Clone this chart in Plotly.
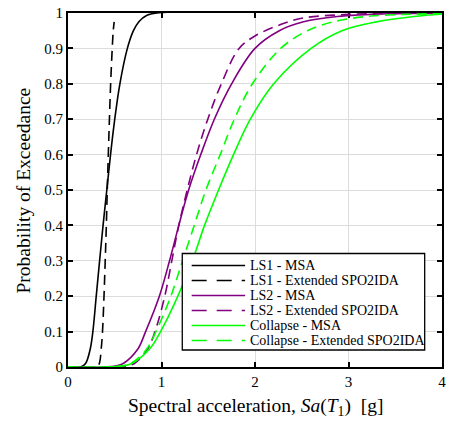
import plotly.graph_objects as go

# LS1 - MSA (black solid)
ls1_msa_x = [0.0, 0.14, 0.188, 0.237, 0.266, 0.302, 0.338, 0.375, 0.415, 0.455, 0.5, 0.555, 0.635, 0.7, 0.76, 0.84, 0.95, 4.0]
ls1_msa_y = [0.0, 0.001, 0.01, 0.05, 0.1, 0.2, 0.3, 0.4, 0.5, 0.6, 0.7, 0.8, 0.9, 0.95, 0.976, 0.993, 1.0, 1.0]

# LS1 - Extended SPO2IDA (black dashed)
ls1_ext_x = [0.0, 0.30, 0.322, 0.34, 0.355, 0.369, 0.385, 0.398, 0.41, 0.42, 0.431, 0.443, 0.456, 0.473, 0.484, 0.494]
ls1_ext_y = [0.0, 0.0, 0.003, 0.015, 0.05, 0.1, 0.2, 0.3, 0.4, 0.5, 0.6, 0.7, 0.8, 0.9, 0.95, 0.975]

# LS2 - MSA (purple solid)
ls2_msa_x = [0.0, 0.46, 0.59, 0.745, 0.83, 0.977, 1.086, 1.185, 1.29, 1.42, 1.565, 1.75, 2.0, 2.26, 2.52, 2.88, 3.45, 4.0]
ls2_msa_y = [0.0, 0.001, 0.01, 0.05, 0.1, 0.2, 0.3, 0.4, 0.5, 0.6, 0.7, 0.8, 0.9, 0.95, 0.975, 0.99, 0.998, 0.9995]

# LS2 - Extended SPO2IDA (purple dashed)
ls2_ext_x = [0.0, 0.58, 0.71, 0.85, 0.93, 1.035, 1.11, 1.185, 1.275, 1.375, 1.495, 1.64, 1.83, 2.0, 2.28, 2.52, 3.0, 3.5, 4.0]
ls2_ext_y = [0.0, 0.001, 0.01, 0.05, 0.1, 0.2, 0.3, 0.4, 0.5, 0.6, 0.7, 0.8, 0.9, 0.935, 0.968, 0.986, 0.996, 0.999, 1.0]

# Collapse - MSA (green solid)
col_msa_x = [0.0, 0.51, 0.68, 0.87, 0.99, 1.175, 1.33, 1.46, 1.61, 1.77, 1.95, 2.2, 2.6, 2.93, 3.3, 3.7, 4.0]
col_msa_y = [0.0, 0.001, 0.01, 0.05, 0.1, 0.2, 0.3, 0.4, 0.5, 0.6, 0.7, 0.8, 0.9, 0.95, 0.975, 0.99, 0.997]

# Collapse - Extended SPO2IDA (green dashed)
col_ext_x = [0.0, 0.52, 0.67, 0.84, 0.94, 1.1, 1.225, 1.35, 1.475, 1.628, 1.779, 1.972, 2.275, 2.56, 2.835, 3.19, 3.6, 4.0]
col_ext_y = [0.0, 0.001, 0.01, 0.05, 0.1, 0.2, 0.3, 0.4, 0.5, 0.6, 0.7, 0.8, 0.9, 0.95, 0.975, 0.99, 0.996, 0.998]

x_ticks = [0, 1, 2, 3, 4]
y_ticks = [0, 0.1, 0.2, 0.3, 0.4, 0.5, 0.6, 0.7, 0.8, 0.9, 1]

BLACK = "#000000"
PURPLE = "#800080"
GREEN = "#00ff00"
DASH = "10px,6px"
FONT = "Liberation Serif"

series = [
    ("LS1 - MSA", ls1_msa_x, ls1_msa_y, BLACK, "solid"),
    ("LS1 - Extended SPO2IDA", ls1_ext_x, ls1_ext_y, BLACK, DASH),
    ("LS2 - MSA", ls2_msa_x, ls2_msa_y, PURPLE, "solid"),
    ("LS2 - Extended SPO2IDA", ls2_ext_x, ls2_ext_y, PURPLE, DASH),
    ("Collapse - MSA", col_msa_x, col_msa_y, GREEN, "solid"),
    ("Collapse - Extended SPO2IDA", col_ext_x, col_ext_y, GREEN, DASH),
]

fig = go.Figure()
for name, xs, ys, color, dash in series:
    fig.add_trace(go.Scatter(
        x=xs, y=ys, mode="lines", name=name, showlegend=False,
        line=dict(color=color, width=1.6, dash=dash, shape="spline", smoothing=1.0),
    ))

# Plot-area geometry in pixels (for the hand-built legend box)
W, H = 450, 426
ML, MR, MT, MB = 68, 4, 13, 59
PW, PH = W - ML - MR, H - MT - MB


def px_to_paper_x(px):
    return (px - ML) / PW


def px_to_paper_y(py):
    return (H - MB - py) / PH


shapes = []
annotations = []

# legend box
shapes.append(dict(type="rect", xref="paper", yref="paper",
                   x0=px_to_paper_x(183.5), x1=px_to_paper_x(428.5),
                   y0=px_to_paper_y(350), y1=px_to_paper_y(253.5),
                   line=dict(color="black", width=1.3), fillcolor="white", layer="above"))
row0, row_step = 265.5, 15.0
for i, (name, xs, ys, color, dash) in enumerate(series):
    ry = px_to_paper_y(row0 + i * row_step)
    shapes.append(dict(type="line", xref="paper", yref="paper",
                       x0=px_to_paper_x(193), x1=px_to_paper_x(247), y0=ry, y1=ry,
                       line=dict(color=color, width=1.6, dash=("solid" if dash == "solid" else "15px,10px")),
                       layer="above"))
    annotations.append(dict(text=name, x=px_to_paper_x(250), y=ry, xref="paper", yref="paper",
                            showarrow=False, xanchor="left", yanchor="middle",
                            font=dict(family=FONT, size=14, color="black")))

annotations += [
    dict(text="Probability of Exceedance", x=px_to_paper_x(23), y=0.5, xref="paper", yref="paper",
         textangle=-90, showarrow=False, xanchor="center", yanchor="middle",
         font=dict(family=FONT, size=19.5, color="black")),
    dict(text="Spectral acceleration, <i>Sa</i>(<i>T</i><sub>1</sub>)  [g]", x=0.5, y=px_to_paper_y(407),
         xref="paper", yref="paper", showarrow=False, xanchor="center", yanchor="middle",
         font=dict(family=FONT, size=19.5, color="black")),
]

axis_common = dict(
    showline=True, linecolor="black", linewidth=2, mirror="allticks",
    ticks="inside", ticklen=5, tickwidth=2, tickcolor="black",
    showgrid=True, gridcolor="#dcdcdc", gridwidth=1.3,
    zeroline=False, layer="below traces",
    tickfont=dict(family=FONT, size=15, color="black"),
)

fig.update_layout(
    width=W, height=H,
    margin=dict(l=ML, r=MR, t=MT, b=MB),
    paper_bgcolor="white", plot_bgcolor="white",
    xaxis=dict(range=[0, 4], tickvals=x_ticks, **axis_common),
    yaxis=dict(range=[0, 1], tickvals=y_ticks, **axis_common),
    showlegend=False,
    shapes=shapes,
    annotations=annotations,
)

fig.write_html("out.html")
